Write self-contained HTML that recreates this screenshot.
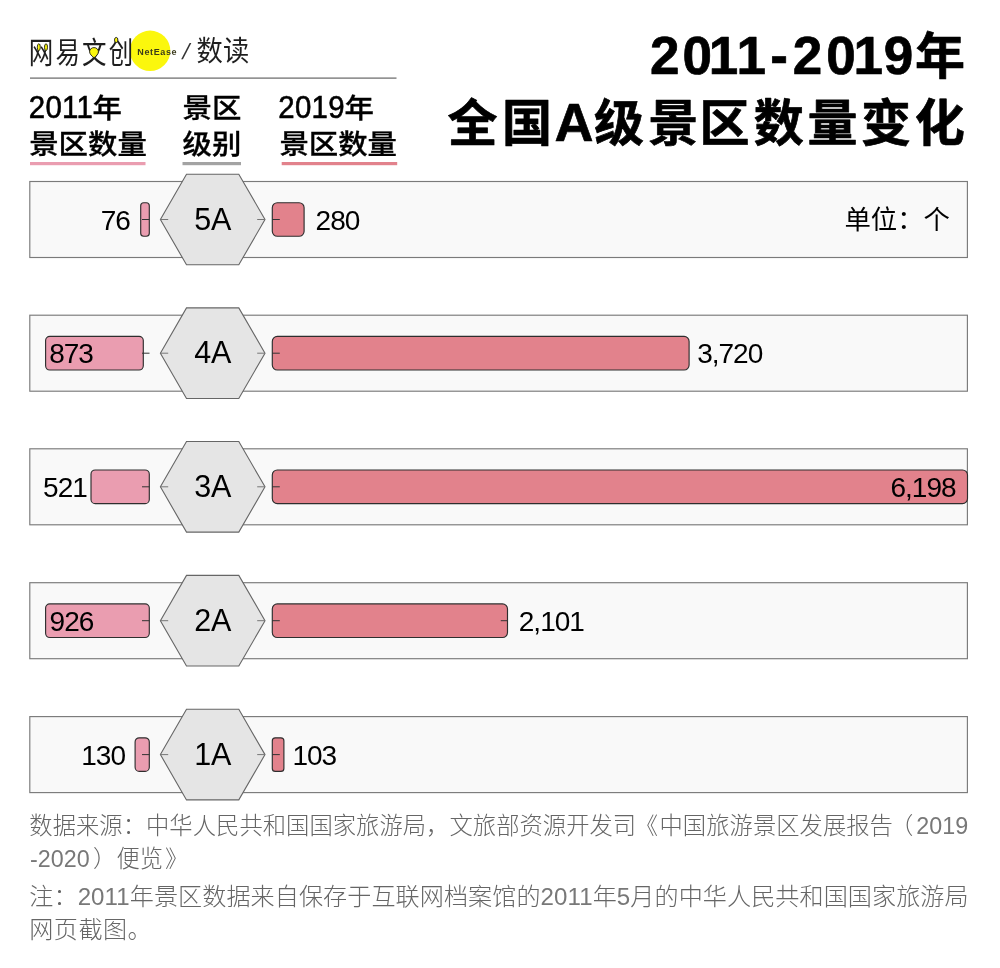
<!DOCTYPE html>
<html lang="zh-CN"><head><meta charset="utf-8"><title>2011-2019年全国A级景区数量变化</title>
<style>
html,body{margin:0;padding:0;background:#fff;}
body{width:1000px;height:968px;overflow:hidden;position:relative;font-family:"Liberation Sans","Noto Sans CJK SC",sans-serif;}
svg{position:absolute;left:0;top:0;display:block;}
text{font-family:"Liberation Sans","Noto Sans CJK SC",sans-serif;}
.num{font-size:28px;fill:#000;letter-spacing:-1px;}
.lvl{font-size:30.5px;fill:#000;letter-spacing:-0.3px;}
.hd{font-size:29.4px;font-weight:500;fill:#000;}
.hdg{stroke:#000;stroke-width:0.55px;letter-spacing:0.3px;}
.hdc{stroke:#000;stroke-width:0.35px;}
.ttl{font-size:50px;font-weight:700;fill:#000;stroke:#000;stroke-width:0.7px;stroke-linejoin:round;letter-spacing:3.3px;}
.ft{font-size:23.3px;font-weight:300;fill:#666;}
.f2{font-size:24.1px;}
.dg{fill:#787878;}
.logo{font-size:26px;font-weight:300;fill:#222;}
</style></head><body>
<svg width="1000" height="968" viewBox="0 0 1000 968">
<g id="logo">
<circle cx="150.1" cy="50.8" r="20.2" fill="#fbf70d"/>
<text transform="translate(28.7 62.6) scale(1 1.22)" style="font-size:24.5px;font-weight:400;letter-spacing:2.2px;fill:#1e1e1e">网易文创</text>
<g fill="#fbf70d" stroke="#1e1e1e" stroke-width="0.9">
<ellipse cx="38.8" cy="47.2" rx="1.5" ry="3.4"/><ellipse cx="46" cy="47.2" rx="1.5" ry="3.4"/>
<path d="M94 47.6c2.6 0 4.4 1.9 4.4 4.1c0 2.4-2.2 4.3-4.4 6.1c-2.2-1.8-4.4-3.7-4.4-6.1c0-2.2 1.8-4.1 4.4-4.1z"/>
<ellipse cx="116.2" cy="40" rx="1.7" ry="2.6"/>
</g>
<text x="137.3" y="54.5" style="font-size:9px;font-weight:700;letter-spacing:0.62px;fill:#3a3a1c">NetEase</text>
<text transform="translate(181.2 58.6) skewX(-14)" style="font-size:22px;fill:#333">/</text>
<text transform="translate(196.6 61.4) scale(1 1.06)" style="font-size:26.3px;font-weight:400;letter-spacing:0.2px;fill:#1e1e1e">数读</text>
</g>
<rect x="30" y="77.5" width="366.5" height="1.2" fill="#666"/>
<g id="headers">
<text class="hd hdg" transform="translate(28.8 118) scale(1 1.064)">2011</text>
<text class="hd hdc" transform="translate(92.6 117.6) scale(1 0.935)">年</text>
<text class="hd hdc" transform="translate(29.2 153.6) scale(1 0.935)">景区数量</text>
<text class="hd hdc" transform="translate(182.6 117.6) scale(1 0.935)">景区</text>
<text class="hd hdc" transform="translate(182.6 153.6) scale(1 0.935)">级别</text>
<text class="hd hdg" transform="translate(278.3 118) scale(1 1.064)">2019</text>
<text class="hd hdc" transform="translate(344.6 117.6) scale(1 0.935)">年</text>
<text class="hd hdc" transform="translate(279.4 153.6) scale(1 0.935)">景区数量</text>
<rect x="30" y="162" width="115.5" height="3.2" fill="#ea9db0"/>
<rect x="182.5" y="162" width="58.5" height="3.2" fill="#a3a3a3"/>
<rect x="281.7" y="162" width="115.5" height="3.2" fill="#e2828c"/>
</g>
<g id="title">
<text class="ttl" y="74" style="letter-spacing:0"><tspan style="font-size:53px" x="650.0 682.4 708.8 736.4 770.2 792.7 826.3 853.4 883.8">2011-2019</tspan><tspan x="914.9">年</tspan></text>
<text class="ttl" y="140.8" style="letter-spacing:0"><tspan x="447.6 501.9">全国</tspan><tspan style="font-size:54px" x="554.6">A</tspan><tspan x="594 648.2 699.5 753.8 807.6 860.9 914.7">级景区数量变化</tspan></text>
</g>
<g id="row1">
<rect x="29.8" y="181.5" width="937.6" height="76" fill="#f9f9f9" stroke="#7a7a7a" stroke-width="1.15"/>
<rect x="140.7" y="202.7" width="8.6" height="33.6" rx="3.0" fill="#ea9db0" stroke="#2e2e2e" stroke-width="1.15"/>
<rect x="272.3" y="202.7" width="31.8" height="33.6" rx="5" fill="#e2828c" stroke="#2e2e2e" stroke-width="1.15"/>
<path d="M142 219.5H149.5M272 219.5H279.8" stroke="#333" stroke-width="1" fill="none"/>
<polygon points="160.4,219.5 186.5,174.2 238.8,174.2 265.0,219.5 238.8,264.8 186.5,264.8" fill="#e5e5e5" stroke="#666" stroke-width="1.1"/>
<path d="M160.4 219.5h7.8M265.0 219.5h-7.8" stroke="#777" stroke-width="1" fill="none"/>
<text class="lvl" x="212.7" y="229.5" text-anchor="middle">5A</text>
<text class="num" x="129.9" y="229.5" text-anchor="end">76</text>
<text class="num" x="315.6" y="229.5" text-anchor="start">280</text>
<text x="950" y="229.0" text-anchor="end" style="font-size:26.4px;fill:#000">单位：个</text>
</g>
<g id="row2">
<rect x="29.8" y="315.2" width="937.6" height="76" fill="#f9f9f9" stroke="#7a7a7a" stroke-width="1.15"/>
<rect x="45.6" y="336.4" width="97.7" height="33.6" rx="4.2" fill="#ea9db0" stroke="#2e2e2e" stroke-width="1.15"/>
<rect x="272.3" y="336.4" width="416.8" height="33.6" rx="5" fill="#e2828c" stroke="#2e2e2e" stroke-width="1.15"/>
<path d="M142 353.2H149.5M272 353.2H279.8" stroke="#333" stroke-width="1" fill="none"/>
<polygon points="160.4,353.2 186.5,307.9 238.8,307.9 265.0,353.2 238.8,398.5 186.5,398.5" fill="#e5e5e5" stroke="#666" stroke-width="1.1"/>
<path d="M160.4 353.2h7.8M265.0 353.2h-7.8" stroke="#777" stroke-width="1" fill="none"/>
<text class="lvl" x="212.7" y="363.2" text-anchor="middle">4A</text>
<text class="num" x="49.2" y="363.2" text-anchor="start">873</text>
<text class="num" x="697.2" y="363.2" text-anchor="start">3,720</text>
</g>
<g id="row3">
<rect x="29.8" y="448.8" width="937.6" height="76" fill="#f9f9f9" stroke="#7a7a7a" stroke-width="1.15"/>
<rect x="91.0" y="470.0" width="58.3" height="33.6" rx="4.2" fill="#ea9db0" stroke="#2e2e2e" stroke-width="1.15"/>
<rect x="272.3" y="470.0" width="695.2" height="33.6" rx="5" fill="#e2828c" stroke="#2e2e2e" stroke-width="1.15"/>
<path d="M142 486.8H149.5M272 486.8H279.8" stroke="#333" stroke-width="1" fill="none"/>
<polygon points="160.4,486.8 186.5,441.5 238.8,441.5 265.0,486.8 238.8,532.1 186.5,532.1" fill="#e5e5e5" stroke="#666" stroke-width="1.1"/>
<path d="M160.4 486.8h7.8M265.0 486.8h-7.8" stroke="#777" stroke-width="1" fill="none"/>
<text class="lvl" x="212.7" y="496.8" text-anchor="middle">3A</text>
<text class="num" x="86.8" y="496.8" text-anchor="end">521</text>
<text class="num" x="955.6" y="496.8" text-anchor="end">6,198</text>
</g>
<g id="row4">
<rect x="29.8" y="582.7" width="937.6" height="76" fill="#f9f9f9" stroke="#7a7a7a" stroke-width="1.15"/>
<rect x="45.6" y="603.9" width="103.7" height="33.6" rx="4.2" fill="#ea9db0" stroke="#2e2e2e" stroke-width="1.15"/>
<rect x="272.3" y="603.9" width="235.2" height="33.6" rx="5" fill="#e2828c" stroke="#2e2e2e" stroke-width="1.15"/>
<path d="M142 620.7H149.5M272 620.7H279.8" stroke="#333" stroke-width="1" fill="none"/>
<path d="M500.8 620.7H508" stroke="#333" stroke-width="1" fill="none"/>
<polygon points="160.4,620.7 186.5,575.4 238.8,575.4 265.0,620.7 238.8,666.0 186.5,666.0" fill="#e5e5e5" stroke="#666" stroke-width="1.1"/>
<path d="M160.4 620.7h7.8M265.0 620.7h-7.8" stroke="#777" stroke-width="1" fill="none"/>
<text class="lvl" x="212.7" y="630.7" text-anchor="middle">2A</text>
<text class="num" x="49.6" y="630.7" text-anchor="start">926</text>
<text class="num" x="518.8" y="630.7" text-anchor="start">2,101</text>
</g>
<g id="row5">
<rect x="29.8" y="716.6" width="937.6" height="76" fill="#f9f9f9" stroke="#7a7a7a" stroke-width="1.15"/>
<rect x="135.1" y="737.8" width="14.2" height="33.6" rx="4.2" fill="#ea9db0" stroke="#2e2e2e" stroke-width="1.15"/>
<rect x="272.3" y="737.8" width="11.6" height="33.6" rx="3.0" fill="#e2828c" stroke="#2e2e2e" stroke-width="1.15"/>
<path d="M142 754.6H149.5M272 754.6H279.8" stroke="#333" stroke-width="1" fill="none"/>
<polygon points="160.4,754.6 186.5,709.3 238.8,709.3 265.0,754.6 238.8,799.9 186.5,799.9" fill="#e5e5e5" stroke="#666" stroke-width="1.1"/>
<path d="M160.4 754.6h7.8M265.0 754.6h-7.8" stroke="#777" stroke-width="1" fill="none"/>
<text class="lvl" x="212.7" y="764.6" text-anchor="middle">1A</text>
<text class="num" x="125.0" y="764.6" text-anchor="end">130</text>
<text class="num" x="292.4" y="764.6" text-anchor="start">103</text>
</g>
<g id="footer">
<text class="ft" x="29.3" y="834.1" textLength="939">数据来源：中华人民共和国国家旅游局，文旅部资源开发司<tspan dx="-1.5">《</tspan><tspan dx="1.5">中</tspan>国旅游景区发展报告<tspan dx="-3">（</tspan><tspan class="dg" dx="3">2019</tspan></text>
<text class="ft" x="30" y="866.8"><tspan class="dg">-2020</tspan><tspan dx="3.5">）</tspan>便览<tspan dx="2">》</tspan></text>
<text class="ft f2" x="29.3" y="904.8" textLength="939.3">注：<tspan class="dg">2011</tspan>年景区数据来自保存于互联网档案馆的<tspan class="dg">2011</tspan>年<tspan class="dg">5</tspan>月的中华人民共和国国家旅游局</text>
<text class="ft f2" x="29.3" y="937.6" style="letter-spacing:0.45px">网页截图。</text>
</g>
</svg>
</body></html>
